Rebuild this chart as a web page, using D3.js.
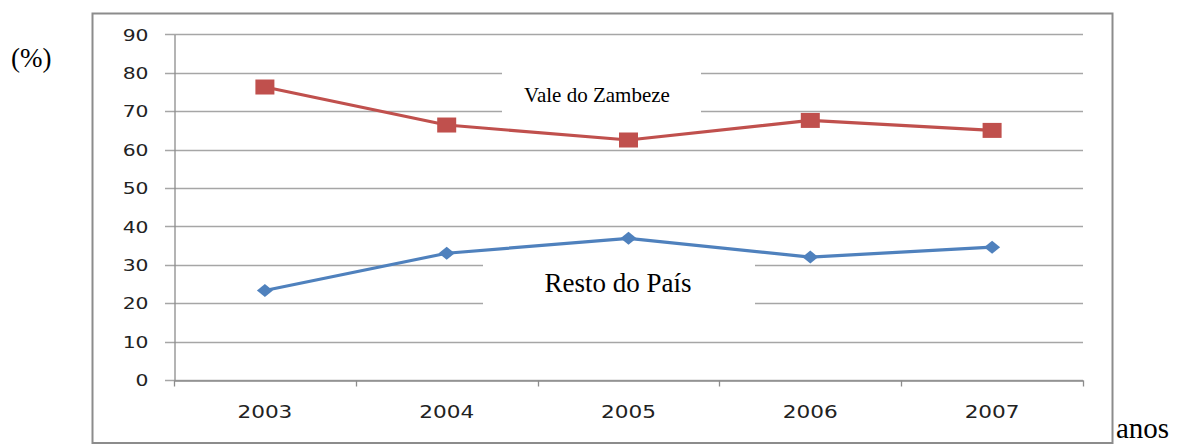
<!DOCTYPE html>
<html>
<head>
<meta charset="utf-8">
<script src="https://cdn.jsdelivr.net/npm/d3@7"></script>
<style>
body{margin:0;background:#fff;}
svg{display:block;}
</style>
</head>
<body>
<div id="chart"></div>
<script>
var width = 1191,
height = 446

// data
var years = ["2003","2004","2005","2006","2007"]
var valeZambeze = [76.3, 66.4, 62.5, 67.6, 65.0]
var restoPais = [23.3, 33.0, 36.9, 32.0, 34.6]
var yTicks = [0,10,20,30,40,50,60,70,80,90]

var svg = d3.select("#chart").append("svg")
.attr("width", width)
.attr("height", height)

var x = d3.scaleBand().domain(years).range([174, 1083]).padding(0)
var y = d3.scaleLinear().domain([0, 90]).range([380, 34.4])

// outer frame
svg.append("rect")
.attr("x", 92.5).attr("y", 13.5)
.attr("width", 1020).attr("height", 429.5)
.attr("fill", "none")
.attr("stroke", "#8c8c8c")
.attr("stroke-width", 2)

// gridlines
svg.append("g").selectAll("line")
.data(yTicks)
.enter()
.append("line")
.attr("x1", 165).attr("x2", x.range()[1])
.attr("y1", function(d){ return Math.round(y(d)) + 0.5 })
.attr("y2", function(d){ return Math.round(y(d)) + 0.5 })
.attr("stroke", "#a6a6a6")
.attr("stroke-width", 1.3)

// white boxes behind the series names
svg.append("rect").attr("x", 502).attr("y", 69).attr("width", 199).attr("height", 46).attr("fill", "#fff")
svg.append("rect").attr("x", 483).attr("y", 259).attr("width", 272).attr("height", 48).attr("fill", "#fff")

// y axis
var yAxis = svg.append("g")
.attr("transform", "translate(" + (x.range()[0] + 0.5) + ",0)")
.call(d3.axisLeft(y).tickValues(yTicks).tickSize(0).tickSizeOuter(0))
yAxis.select(".domain").attr("stroke", "#8c8c8c").attr("stroke-width", 1.3)
yAxis.selectAll("text")
.attr("x", -26 / 1.27)
.attr("dy", "0.36em")
.attr("transform", "scale(1.27,1)")
.attr("fill", "#222")
.style("font-family", "'DejaVu Sans', Verdana, sans-serif")
.style("font-size", "16px")

// x axis
var xAxis = svg.append("g")
.attr("transform", "translate(0," + (Math.round(y(0)) + 0.5) + ")")
.call(d3.axisBottom(x).tickSize(0).tickSizeOuter(0))
xAxis.select(".domain").attr("stroke", "#8c8c8c").attr("stroke-width", 1.3)
xAxis.selectAll("text")
.attr("y", 38)
.attr("dy", 0)
.attr("x", 0)
.attr("transform", "scale(1.27,1)")
.attr("fill", "#222")
.style("font-family", "'DejaVu Sans', Verdana, sans-serif")
.style("font-size", "17px")

// tick marks between the categories
var edges = years.map(function(d){ return x(d) }).concat([x.range()[1]])
xAxis.selectAll(".edge")
.data(edges)
.enter()
.append("line")
.attr("class", "edge")
.attr("x1", function(d){ return Math.round(d) + 0.5 })
.attr("x2", function(d){ return Math.round(d) + 0.5 })
.attr("y1", 0).attr("y2", 6)
.attr("stroke", "#8c8c8c")
.attr("stroke-width", 1.3)

var line = d3.line()
.x(function(d, i){ return x(years[i]) + x.bandwidth() / 2 })
.y(function(d){ return y(d) })

// Resto do País (blue, diamonds)
svg.append("path")
.datum(restoPais)
.attr("d", line)
.attr("fill", "none")
.attr("stroke", "#4f81bd")
.attr("stroke-width", 3.2)
.attr("stroke-linejoin", "round")

svg.append("g").selectAll("path")
.data(restoPais)
.enter()
.append("path")
.attr("d", "M-8,0L0,-6.5L8,0L0,6.5Z")
.attr("transform", function(d, i){ return "translate(" + (x(years[i]) + x.bandwidth() / 2) + "," + y(d) + ")" })
.attr("fill", "#4f81bd")

// Vale do Zambeze (red, squares)
svg.append("path")
.datum(valeZambeze)
.attr("d", line)
.attr("fill", "none")
.attr("stroke", "#c0504d")
.attr("stroke-width", 3.2)
.attr("stroke-linejoin", "round")

svg.append("g").selectAll("rect")
.data(valeZambeze)
.enter()
.append("rect")
.attr("x", function(d, i){ return x(years[i]) + x.bandwidth() / 2 - 9.5 })
.attr("y", function(d){ return y(d) - 7.5 })
.attr("width", 19)
.attr("height", 15)
.attr("fill", "#c0504d")

// series names
svg.append("text")
.attr("x", 597).attr("y", 102)
.attr("text-anchor", "middle")
.style("font-family", "'Liberation Serif', 'Times New Roman', serif")
.style("font-size", "21px")
.text("Vale do Zambeze")

svg.append("text")
.attr("x", 618).attr("y", 292)
.attr("text-anchor", "middle")
.style("font-family", "'Liberation Serif', 'Times New Roman', serif")
.style("font-size", "27px")
.text("Resto do País")

// axis titles
svg.append("text")
.attr("x", 11).attr("y", 67)
.style("font-family", "'Liberation Serif', 'Times New Roman', serif")
.style("font-size", "27px")
.text("(%)")

svg.append("text")
.attr("x", 1116).attr("y", 438)
.style("font-family", "'Liberation Serif', 'Times New Roman', serif")
.style("font-size", "29px")
.text("anos")
</script>
</body>
</html>
